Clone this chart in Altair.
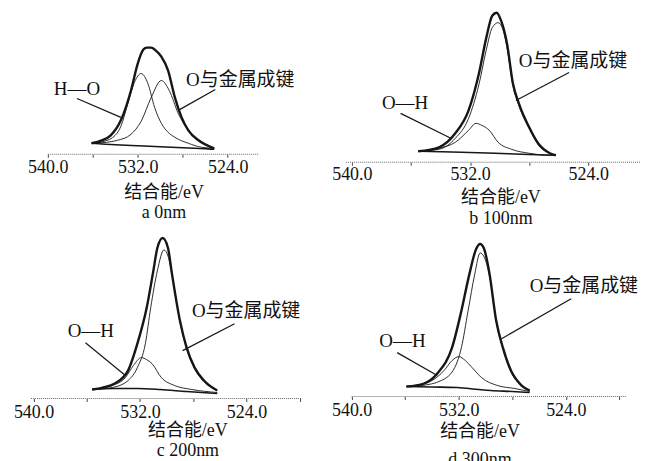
import altair as alt
import pandas as pd

FONT = "Liberation Serif, Noto Sans CJK SC"
INK = "#161616"

# ---- panel a (0 nm) : (binding energy eV, intensity) ----
A_ENV = [(536.1, 11), (535.2, 14), (534.4, 19), (533.5, 34), (532.6, 64), (532.0, 91), (531.5, 105),
         (531.2, 107), (530.8, 107), (530.4, 104), (529.9, 98), (529.3, 84), (528.7, 57), (528.1, 37),
         (527.5, 24), (526.6, 14), (525.2, 6)]
A_C1 = [(536.1, 11), (535.0, 13), (534.0, 19), (533.5, 28), (532.9, 50), (532.3, 72), (531.7, 81),
        (531.1, 71), (530.5, 47), (529.9, 31), (529.3, 22), (528.7, 17), (527.5, 11), (526.3, 7), (525.2, 6)]
A_C2 = [(536.1, 11), (534.8, 12), (533.8, 14), (532.6, 20), (531.7, 33), (530.8, 57), (529.9, 74),
        (529.2, 64), (528.4, 41), (527.5, 24), (526.3, 12), (525.2, 6)]
A_BASE = [(536.1, 11), (534.0, 9.5), (532.0, 8.5), (530.0, 7.5), (528.0, 6.5), (526.0, 5.5), (525.2, 5)]

# ---- panel b (100 nm) ----
B_ENV = [(535.5, 11), (534.1, 15), (533.0, 29), (532.1, 52), (531.4, 89), (530.9, 125), (530.5, 147),
         (530.2, 150), (529.9, 142), (529.5, 119), (529.1, 79), (528.7, 59), (528.0, 35), (527.4, 19),
         (526.6, 9), (526.2, 7)]
B_C1 = [(535.5, 11), (534.1, 14), (533.0, 20), (532.1, 32), (531.6, 39), (531.2, 37), (530.7, 32),
        (530.1, 20), (529.2, 13), (528.0, 9), (526.6, 7), (526.2, 7)]
B_C2 = [(535.5, 11), (534.1, 13), (533.0, 24), (532.1, 44), (531.4, 78), (530.9, 113), (530.5, 135),
        (530.1, 140), (529.8, 134), (529.5, 115), (529.1, 77), (528.7, 57), (528.0, 34), (527.4, 18),
        (526.6, 9), (526.2, 7)]
B_BASE = [(535.5, 11), (534.0, 10.5), (532.6, 10), (530.3, 9), (528.5, 8), (526.2, 7)]

# ---- panel c (200 nm) ----
C_ENV = [(535.6, 9), (534.8, 11), (533.9, 15), (532.9, 28), (532.2, 55), (531.5, 91), (531.0, 128),
         (530.7, 151), (530.3, 161), (529.9, 151), (529.6, 125), (529.0, 78), (528.5, 51), (527.9, 31),
         (527.2, 18), (526.2, 8)]
C_C1 = [(535.6, 9), (534.1, 13), (533.1, 21), (532.5, 33), (531.9, 41), (531.5, 39), (531.1, 35),
        (530.4, 21), (529.4, 13), (528.1, 9), (526.2, 6)]
C_C2 = [(535.6, 9), (534.1, 11), (532.9, 18), (532.2, 31), (531.6, 55), (531.2, 91), (530.7, 128),
        (530.2, 149), (529.9, 143), (529.6, 124), (529.0, 77), (528.5, 50), (527.9, 30), (527.2, 17),
        (526.2, 8)]
C_BASE = [(535.6, 9), (534.0, 10), (532.2, 10), (530.5, 9), (528.5, 7), (526.2, 5)]

# ---- panel d (300 nm) ----
D_ENV = [(535.9, 10), (534.6, 13), (533.6, 23), (532.5, 49), (531.8, 86), (531.2, 123), (530.7, 148),
         (530.4, 153), (530.1, 148), (529.7, 123), (529.2, 76), (528.7, 49), (528.1, 26), (527.3, 11),
         (526.7, 6)]
D_C1 = [(535.9, 10), (535.3, 11), (534.0, 16), (533.1, 26), (532.5, 36), (532.0, 40), (531.5, 36),
        (531.0, 29), (530.3, 19), (529.1, 11), (527.8, 8), (526.7, 5)]
D_C2 = [(535.9, 10), (534.8, 11), (533.3, 16), (532.3, 29), (531.8, 49), (531.3, 86), (530.8, 123),
        (530.4, 144), (530.1, 140), (529.7, 121), (529.2, 75), (528.7, 48), (528.1, 25), (527.3, 11),
        (526.7, 6)]
D_BASE = [(535.9, 10), (534.0, 9.5), (532.1, 9), (530.5, 7), (529.6, 6), (528.0, 5), (526.7, 4)]

# ---- annotations: (text, E, I, align) and leader lines (E1, I1, E2, I2) ----
A_TEXT = [("H—O", 537.4, 65, "center"), ("O与金属成键", 527.7, 74, "left")]
A_LEAD = [(537.4, 56, 533.5, 37), (525.1, 65, 528.4, 44)]
B_TEXT = [("O—H", 536.4, 59, "center"), ("O与金属成键", 528.7, 102, "left")]
B_LEAD = [(536.7, 49, 533.3, 24), (525.3, 90, 528.9, 62)]
C_TEXT = [("O—H", 535.7, 68, "center"), ("O与金属成键", 528.1, 88, "left")]
C_LEAD = [(536.1, 56, 533.1, 23), (524.9, 75, 528.8, 48)]
D_TEXT = [("O—H", 536.2, 56, "center"), ("O与金属成键", 526.7, 111, "left")]
D_LEAD = [(536.6, 44, 533.6, 21), (523.6, 98, 528.8, 58)]

# energy span of each drawn axis line
A_AXIS = (540.0, 521.2)
B_AXIS = (540.4, 520.5)
C_AXIS = (540.2, 519.9)
D_AXIS = (540.0, 519.5)

XTITLE = "结合能/eV"
CAPTIONS = ["a 0nm", "b 100nm", "c 200nm", "d 300nm"]
TICKS = [540, 536, 532, 528, 524, 520]


def panel(env, c1, c2, base, texts, leads, axis_span, caption, xdom, width, height,
          min_ext, label_pad, title_pad, title_lh, title_x):
    def frame(pts):
        return pd.DataFrame(pts, columns=["E", "I"])

    vals = [t for t in TICKS if axis_span[1] <= t <= axis_span[0]]
    xenc = alt.X("E:Q",
                 scale=alt.Scale(domain=xdom, reverse=True, nice=False, zero=False),
                 axis=alt.Axis(values=vals, labelExpr="datum.value % 8 == 4 ? format(datum.value, '.1f') : ''",
                               labelOverlap=False, labelFlush=False, grid=False, domain=False,
                               tickColor="#444", tickSize=3, labelPadding=label_pad,
                               labelFont=FONT, labelFontSize=18, labelColor="#111",
                               title=[XTITLE, caption], titleFont=FONT, titleFontSize=18,
                               titleFontWeight="normal", titleColor="#111", titlePadding=title_pad,
                               titleLineHeight=title_lh, titleX=title_x))
    yenc = alt.Y("I:Q", scale=alt.Scale(domain=[0, height], nice=False, zero=True),
                 axis=alt.Axis(labels=False, ticks=False, domain=False, grid=False, title=None,
                               minExtent=min_ext, maxExtent=min_ext))
    order = alt.Order("E:Q", sort="descending")

    def line(pts, w):
        return alt.Chart(frame(pts)).mark_line(color=INK, strokeWidth=w, interpolate="monotone").encode(
            x=xenc, y=yenc, order=order)

    adf = pd.DataFrame([{"E": axis_span[0], "E2": axis_span[1], "I": 0}])
    layers = [alt.Chart(adf).mark_rule(color="#666", strokeWidth=1, strokeDash=[1, 1]).encode(
        x=xenc, x2="E2:Q", y=yenc)]
    layers += [line(base, 1.6), line(c1, 0.9), line(c2, 0.9), line(env, 2.4)]
    ldf = pd.DataFrame(leads, columns=["E", "I", "E2", "I2"])
    layers.append(alt.Chart(ldf).mark_rule(color=INK, strokeWidth=1.2).encode(
        x=xenc, y=yenc, x2="E2:Q", y2="I2:Q"))
    tdf = pd.DataFrame(texts, columns=["t", "E", "I", "align"])
    for al in ["center", "left"]:
        sub = tdf[tdf["align"] == al]
        layers.append(alt.Chart(sub).mark_text(align=al, baseline="middle", font=FONT, fontSize=19,
                                               color="#111").encode(x=xenc, y=yenc, text="t:N"))
    return alt.layer(*layers).properties(width=width, height=height)


pa = panel(A_ENV, A_C1, A_C2, A_BASE, A_TEXT, A_LEAD, A_AXIS, CAPTIONS[0], [521.2, 541.5], 229, 149,
           26, 1, 7, 20, 133)
pb = panel(B_ENV, B_C1, B_C2, B_BASE, B_TEXT, B_LEAD, B_AXIS, CAPTIONS[1], [520.5, 540.4], 295, 157,
           15, 0, 5, 21, 155)
pc = panel(C_ENV, C_C1, C_C2, C_BASE, C_TEXT, C_LEAD, C_AXIS, CAPTIONS[2], [519.9, 540.2], 271, 168,
           26, 2, 0, 20, 157)
pd_ = panel(D_ENV, D_C1, D_C2, D_BASE, D_TEXT, D_LEAD, D_AXIS, CAPTIONS[3], [519.5, 540.5], 282, 166,
            14, 2, 3, 28, 135)

chart = alt.concat(pa, pb, pc, pd_, columns=2, spacing={"row": 4, "column": 29},
                   align={"row": "each", "column": "none"}).properties(
    padding={"left": 5, "top": 5, "right": 5, "bottom": 5}, background="white"
).configure_view(stroke=None)

chart.save("out.html", embed_options={"renderer": "svg", "actions": False})
